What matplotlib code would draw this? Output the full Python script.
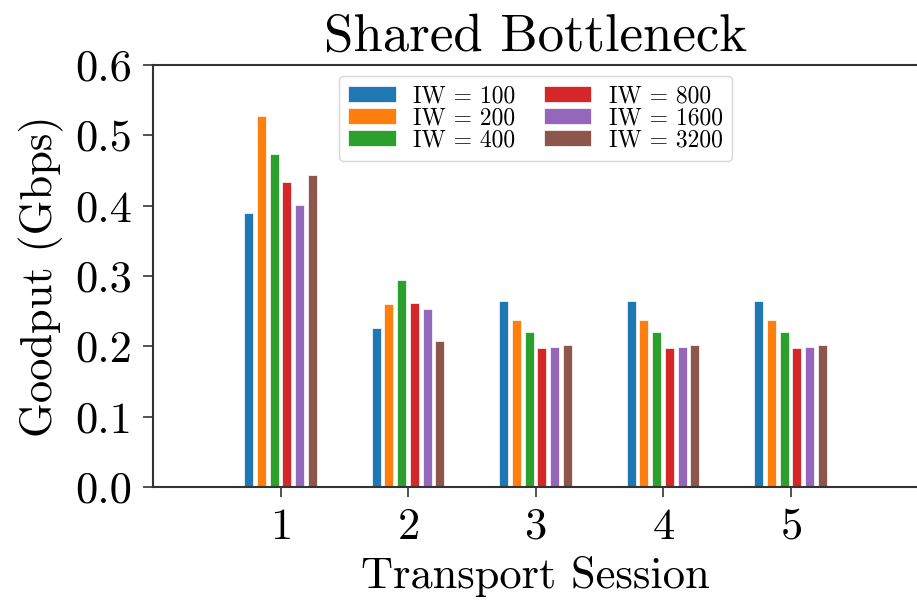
import matplotlib
matplotlib.use("Agg")
import matplotlib.pyplot as plt
import numpy as np

plt.rcParams['font.family'] = ['cmr10', 'DejaVu Serif']
plt.rcParams['mathtext.fontset'] = 'cm'
plt.rcParams['axes.formatter.use_mathtext'] = True
plt.rcParams['axes.unicode_minus'] = False

sessions = [1, 2, 3, 4, 5]
labels = ["IW = 100", "IW = 200", "IW = 400", "IW = 800", "IW = 1600", "IW = 3200"]
iw100 = [0.390, 0.226, 0.264, 0.264, 0.265]
iw200 = [0.528, 0.260, 0.237, 0.237, 0.237]
iw400 = [0.473, 0.295, 0.221, 0.221, 0.221]
iw800 = [0.433, 0.262, 0.198, 0.198, 0.198]
iw1600 = [0.401, 0.253, 0.199, 0.199, 0.199]
iw3200 = [0.443, 0.208, 0.202, 0.202, 0.202]
series = [iw100, iw200, iw400, iw800, iw1600, iw3200]
colors = ['#1f77b4', '#ff7f0e', '#2ca02c', '#d62728', '#9467bd', '#8c564b']

fig = plt.figure(figsize=(9.17, 6.0), dpi=100)
ax = fig.add_axes([153/917, 113/600, 765/917, 422/600])

x = np.array(sessions, dtype=float)
step = 0.1
for i, (vals, lab, col) in enumerate(zip(series, labels, colors)):
    off = (i - 2.5) * step
    ax.bar(x + off, vals, width=0.072, color=col, edgecolor='white',
           linewidth=0.5, label=lab)

ax.set_xlim(0, 6)
ax.set_ylim(0, 0.6)
ax.set_xticks(sessions)
ax.set_yticks([0.0, 0.1, 0.2, 0.3, 0.4, 0.5, 0.6])
ax.set_yticklabels(["0.0", "0.1", "0.2", "0.3", "0.4", "0.5", "0.6"])
ax.tick_params(axis='both', labelsize=32, length=7, width=1.2, pad=8, color='#333333')
for s in ax.spines.values():
    s.set_linewidth(1.5)
    s.set_color('#333333')
ax.spines['right'].set_color('#dddddd')

ax.set_title("Shared Bottleneck", fontsize=38, pad=10)
ax.set_xlabel("Transport Session", fontsize=32, labelpad=6)
ax.set_ylabel("Goodput (Gbps)", fontsize=32, labelpad=8)

leg = ax.legend(loc='upper center', ncol=2, fontsize=17, labelspacing=0.0,
                handlelength=2.0, handleheight=0.7, handletextpad=0.75,
                columnspacing=1.2, borderpad=0.4, borderaxespad=0.45)

fig.savefig("out.png", dpi=100)
